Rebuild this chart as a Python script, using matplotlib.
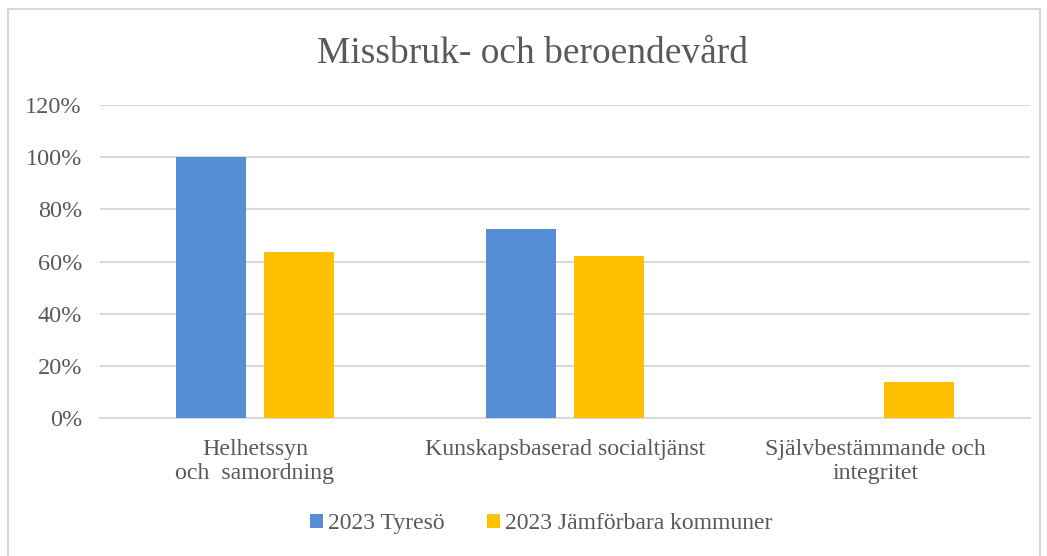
import numpy as np
import matplotlib.pyplot as plt
from matplotlib.patches import Rectangle

kategorier = ['Helhetssyn\noch  samordning', 'Kunskapsbaserad socialtjänst', 'Självbestämmande och\nintegritet']
tyreso = [1.00, 0.725, 0.0]
jamforbara = [0.636, 0.621, 0.137]
serier = ['2023 Tyresö', '2023 Jämförbara kommuner']
yticks = [0, 0.2, 0.4, 0.6, 0.8, 1.0, 1.2]

plt.rcParams['font.family'] = ['Liberation Serif', 'DejaVu Serif']
grå = '#595959'

fig = plt.figure(figsize=(10.47, 5.56), dpi=100)
ax = fig.add_axes([0.0955, 0.2482, 0.8885, 0.5629])

x = np.arange(len(kategorier))
bredd = 0.226
ax.bar(x - 0.142, tyreso, bredd, color='#558ED5', label=serier[0], zorder=3)
ax.bar(x + 0.142, jamforbara, bredd, color='#FFC000', label=serier[1], zorder=3)

ax.set_xlim(-0.5, 2.5)
ax.set_ylim(0, 1.2)
ax.set_yticks(yticks)
ax.set_yticklabels([f'{int(round(v*100))}%' for v in yticks], fontsize=17.5, color=grå)
ax.set_xticks(x)
ax.set_xticklabels(kategorier, fontsize=17.2, color=grå, linespacing=1.2)
ax.tick_params(axis='both', length=0)
ax.tick_params(axis='x', pad=15)
ax.tick_params(axis='y', pad=13)
ax.grid(axis='y', color='#d9d9d9', linewidth=1.5, zorder=0)
for s in ['top', 'right', 'left']:
    ax.spines[s].set_visible(False)
ax.spines['bottom'].set_color('#d9d9d9')
ax.spines['bottom'].set_linewidth(1.5)

fig.text(0.509, 0.904, 'Missbruk- och beroendevård', fontsize=27, color=grå,
         ha='center', va='center')

fig.legend(loc='center', bbox_to_anchor=(0.517, 0.058), ncol=2, frameon=False,
           fontsize=17, labelcolor=grå, handlelength=0.55, handleheight=0.55,
           handletextpad=0.2, columnspacing=1.8)

fig.patches.append(Rectangle((8/1047, -0.05), 1032/1047, 1.05 - 9/556, transform=fig.transFigure,
                             fill=False, edgecolor='#d9d9d9', linewidth=1.5))

fig.savefig('out.png', dpi=100)
